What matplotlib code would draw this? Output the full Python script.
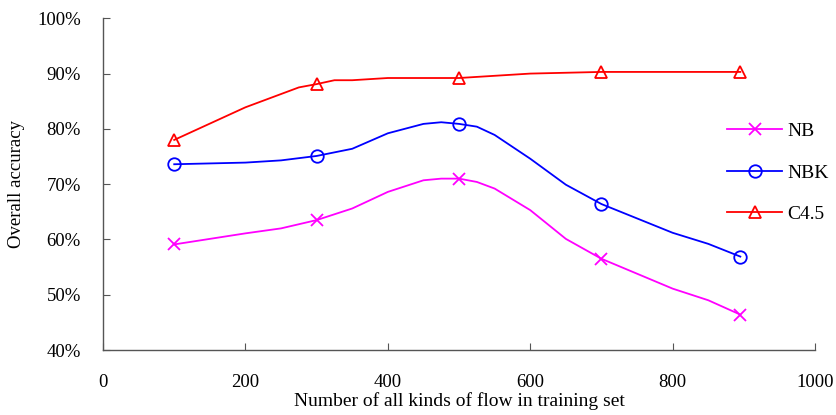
import matplotlib.pyplot as plt
from matplotlib.ticker import FuncFormatter

plt.rcParams['font.family'] = ['Liberation Serif', 'DejaVu Serif']

# curve points (markers only at 100/300/500/700/895)
x_nb = [100, 200, 250, 300, 350, 400, 450, 475, 500, 525, 550, 600, 650, 700, 800, 850, 895]
nb = [59.1, 61.1, 62.0, 63.5, 65.6, 68.6, 70.7, 71.0, 71.0, 70.4, 69.2, 65.3, 60.1, 56.5, 51.1, 49.0, 46.4]
nbk = [73.6, 73.9, 74.3, 75.1, 76.4, 79.2, 80.9, 81.2, 80.9, 80.4, 78.9, 74.6, 69.9, 66.4, 61.2, 59.2, 56.9]

x_c45 = [100, 200, 275, 300, 325, 350, 400, 500, 600, 700, 895]
c45 = [78.0, 83.9, 87.5, 88.1, 88.8, 88.8, 89.2, 89.2, 90.0, 90.3, 90.3]

mark_x = [100, 300, 500, 700, 895]


def marks(xs):
    return [xs.index(v) for v in mark_x]


fig = plt.figure(figsize=(8.36, 4.15), dpi=100)
ax = fig.add_axes([0.1232, 0.1566, 0.8518, 0.7993])

ax.plot(x_nb, nb, color='#FF00FF', lw=1.3, marker='x', ms=9, mew=1.3,
        markevery=marks(x_nb), label='NB')
ax.plot(x_nb, nbk, color='#0000FF', lw=1.3, marker='o', ms=9, mew=1.3, mfc='none',
        markevery=marks(x_nb), label='NBK')
ax.plot(x_c45, c45, color='#FF0000', lw=1.3, marker='^', ms=9, mew=1.3, mfc='none',
        markevery=marks(x_c45), label='C4.5')

ax.set_xlim(0, 1000)
ax.set_ylim(40, 100)
ax.set_xticks(range(0, 1001, 200))
ax.set_yticks(range(40, 101, 10))
ax.yaxis.set_major_formatter(FuncFormatter(lambda v, p: '%d%%' % v))

for s in ['top', 'right']:
    ax.spines[s].set_visible(False)
for s in ['left', 'bottom']:
    ax.spines[s].set_color('#555555')
    ax.spines[s].set_linewidth(1.0)
ax.tick_params(direction='in', length=5, color='#555555', labelsize=13.5)
ax.tick_params(axis='y', pad=16)
ax.tick_params(axis='x', pad=17)

ax.set_xlabel('Number of all kinds of flow in training set', fontsize=14, labelpad=1)
ax.set_ylabel('Overall accuracy', fontsize=13.5, labelpad=9)

ax.legend(loc='upper left', bbox_to_anchor=(0.866, 0.709), frameon=False, fontsize=14,
          handlelength=2.8, labelspacing=1.22, handletextpad=0.3, borderaxespad=0)

fig.savefig('out.png', dpi=100)
